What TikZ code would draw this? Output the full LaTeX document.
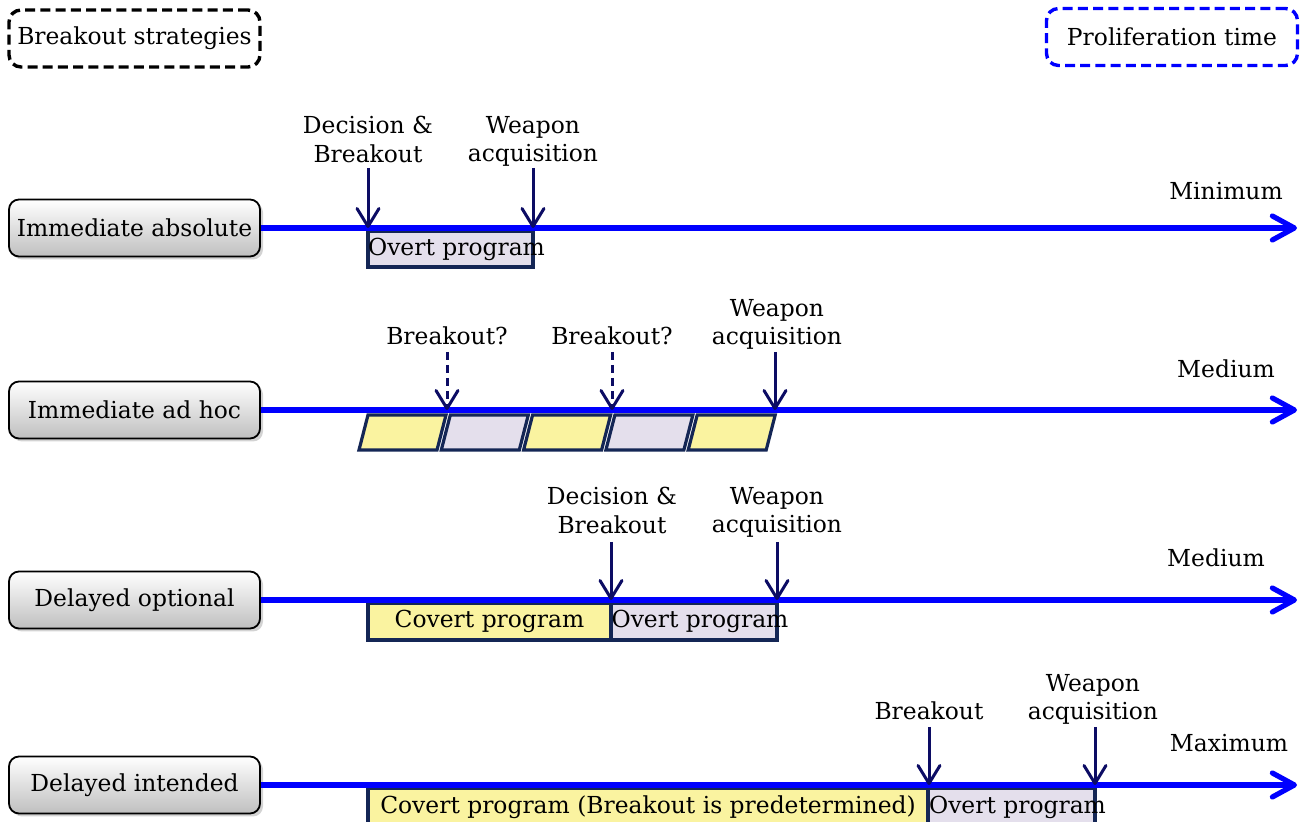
\documentclass[tikz,border=0pt]{standalone}
\usepackage{fontspec}
\setmainfont{DejaVu Serif}
\usetikzlibrary{arrows.meta,shadows}

\definecolor{navy}{RGB}{12,12,100}
\definecolor{boxline}{RGB}{20,38,85}
\definecolor{covert}{RGB}{250,243,160}
\definecolor{overt}{RGB}{228,223,236}

\tikzset{
  strategy/.style={draw=black, line width=0.9pt, rounded corners=5pt, top color=white, bottom color=gray!50,
    minimum width=125.5pt, minimum height=28.5pt, drop shadow={opacity=0.35, shadow xshift=1.5pt, shadow yshift=-1.5pt}},
  legend/.style={line width=1.7pt, dash pattern=on 5pt off 2.6pt, rounded corners=6pt, minimum width=125.5pt, minimum height=28.5pt},
  timeline/.style={draw=blue, line width=2.6pt, -{Straight Barb[length=11pt,width=12pt,round]}},
  event/.style={draw=navy, line width=1.5pt, -{Straight Barb[length=9pt,width=11pt,round]}},
  maybe/.style={event, dash pattern=on 4pt off 2.5pt},
  tlabel/.style={align=center, inner sep=0pt},
  phase/.style={draw=boxline, line width=1.6pt, fill=#1},
  overtlabel/.style={xshift=3pt},
}

\begin{document}
\begin{tikzpicture}[x=0.5pt, y=-0.5pt, font=\fontsize{11.7}{14.2}\selectfont]
\useasboundingbox (0,0) rectangle (1303,822);

\node[legend, draw=black] (strat) at (134.5,38.5) {Breakout strategies};
\node[legend, draw=blue] (prolif) at (1172,37) {Proliferation time};

% immediate absolute
\node[strategy] (imabs) at (134.5,228) {Immediate absolute};
\coordinate (end1) at (1297,228);
\draw[phase=overt] (368,231) rectangle node[overtlabel] (ov1) {Overt program} (533,267);
\draw[timeline] (imabs) -- (end1);
\coordinate (t1a) at (368,228); \coordinate (s1a) at (368,168);
\coordinate (t1b) at (533,228); \coordinate (s1b) at (533,168);
\draw[event] (s1a) -- (t1a);
\draw[event] (s1b) -- (t1b);
\node[tlabel, anchor=north] (l1a) at (368,116) {Decision \&\\Breakout};
\node[tlabel, anchor=north] (l1b) at (533,116) {Weapon\\acquisition};
\node[tlabel, anchor=base] (min) at (1226,200) {Minimum};

% immediate ad hoc
\node[strategy] (imadhoc) at (134.5,410) {Immediate ad hoc};
\coordinate (end2) at (1297,410);
\foreach \i/\c in {0/covert,1/overt,2/covert,3/overt,4/covert}
  \draw[phase=\c] ({368+82.3*\i},415) -- ++(78,0) -- ++(-9,35) -- ++(-78,0) -- cycle;
\draw[timeline] (imadhoc) -- (end2);
\coordinate (t2a) at (447,410); \coordinate (s2a) at (447,352);
\coordinate (t2b) at (612,410); \coordinate (s2b) at (612,352);
\coordinate (t2c) at (775,410); \coordinate (s2c) at (775,352);
\draw[maybe] (s2a) -- (t2a);
\draw[maybe] (s2b) -- (t2b);
\draw[event] (s2c) -- (t2c);
\node[tlabel, anchor=base] (l2a) at (447,345) {Breakout?};
\node[tlabel, anchor=base] (l2b) at (612,345) {Breakout?};
\node[tlabel, anchor=north] (l2c) at (777,299) {Weapon\\acquisition};
\node[tlabel, anchor=base] (med1) at (1226,378) {Medium};

% delayed optional
\node[strategy] (delopt) at (134.5,600) {Delayed optional};
\coordinate (end3) at (1297,600);
\draw[phase=covert] (368,603) rectangle node (cv3) {Covert program} (611,640);
\draw[phase=overt] (611,603) rectangle node[overtlabel] (ov3) {Overt program} (777,640);
\draw[timeline] (delopt) -- (end3);
\coordinate (t3a) at (611,600); \coordinate (s3a) at (611,542);
\coordinate (t3b) at (777,600); \coordinate (s3b) at (777,542);
\draw[event] (s3a) -- (t3a);
\draw[event] (s3b) -- (t3b);
\node[tlabel, anchor=north] (l3a) at (612,487) {Decision \&\\Breakout};
\node[tlabel, anchor=north] (l3b) at (777,487) {Weapon\\acquisition};
\node[tlabel, anchor=base] (med2) at (1216,567) {Medium};

% delayed intended
\node[strategy] (delint) at (134.5,785) {Delayed intended};
\coordinate (end4) at (1297,785);
\draw[phase=covert] (368,788) rectangle node (cv4) {Covert program (Breakout is predetermined)} (928,826);
\draw[phase=overt] (928,788) rectangle node[overtlabel] (ov4) {Overt program} (1095,826);
\draw[timeline] (delint) -- (end4);
\coordinate (t4a) at (929,785); \coordinate (s4a) at (929,727);
\coordinate (t4b) at (1095,785); \coordinate (s4b) at (1095,727);
\draw[event] (s4a) -- (t4a);
\draw[event] (s4b) -- (t4b);
\node[tlabel, anchor=base] (l4a) at (929,720) {Breakout};
\node[tlabel, anchor=north] (l4b) at (1093,674) {Weapon\\acquisition};
\node[tlabel, anchor=base] (max) at (1229,752) {Maximum};
\end{tikzpicture}
\end{document}
